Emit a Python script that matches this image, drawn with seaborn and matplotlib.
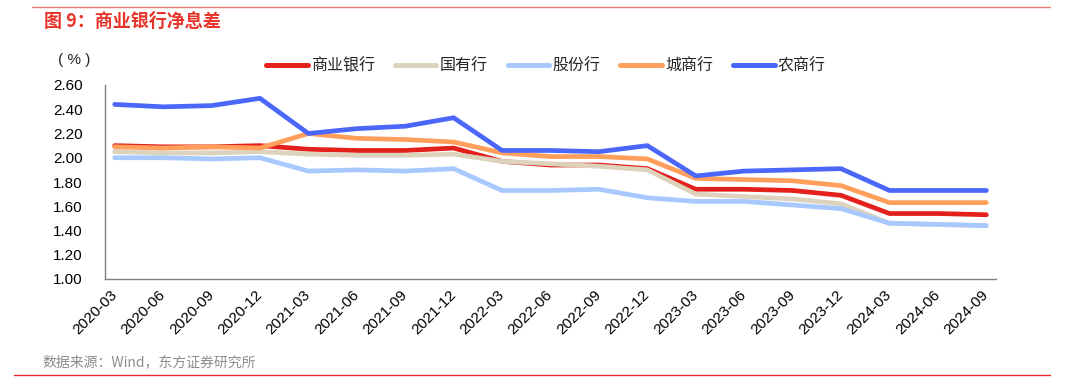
import matplotlib
matplotlib.use("Agg")
import matplotlib.pyplot as plt
import seaborn as sns
import pandas as pd
import numpy as np
from matplotlib.lines import Line2D

quarters = ["2020-03", "2020-06", "2020-09", "2020-12", "2021-03", "2021-06", "2021-09",
            "2021-12", "2022-03", "2022-06", "2022-09", "2022-12", "2023-03", "2023-06",
            "2023-09", "2023-12", "2024-03", "2024-06", "2024-09"]
commercial = [2.10, 2.09, 2.09, 2.10, 2.07, 2.06, 2.06, 2.08, 1.97, 1.94, 1.94, 1.91,
              1.74, 1.74, 1.73, 1.69, 1.54, 1.54, 1.53]
state_owned = [2.05, 2.04, 2.04, 2.05, 2.03, 2.02, 2.02, 2.03, 1.97, 1.95, 1.93, 1.90,
               1.70, 1.68, 1.66, 1.62, 1.46, 1.45, 1.44]
joint_stock = [2.00, 2.00, 1.99, 2.00, 1.89, 1.90, 1.89, 1.91, 1.73, 1.73, 1.74, 1.67,
               1.64, 1.64, 1.61, 1.58, 1.46, 1.45, 1.44]
city = [2.09, 2.08, 2.09, 2.08, 2.20, 2.16, 2.15, 2.13, 2.04, 2.01, 2.01, 1.99,
        1.83, 1.82, 1.81, 1.77, 1.63, 1.63, 1.63]
rural = [2.44, 2.42, 2.43, 2.49, 2.20, 2.24, 2.26, 2.33, 2.06, 2.06, 2.05, 2.10,
         1.85, 1.89, 1.90, 1.91, 1.73, 1.73, 1.73]
series_names = ["商业银行", "国有行", "股份行", "城商行", "农商行"]
colors = ["#E3201B", "#DDD3BD", "#A7C9FF", "#FF9F5B", "#4A67FA"]

sns.set_theme(style="white")
plt.rcParams["font.family"] = ["Liberation Sans", "Noto Sans CJK SC", "DejaVu Sans"]

rows = []
for name, vals in zip(series_names, [commercial, state_owned, joint_stock, city, rural]):
    for i, (q, v) in enumerate(zip(quarters, vals)):
        rows.append({"idx": i, "quarter": q, "series": name, "value": v})
df = pd.DataFrame(rows)

fig = plt.figure(figsize=(10.82, 3.87), dpi=100)
ax = fig.add_axes([105 / 1082, 1 - 279 / 387, (996 - 105) / 1082, (279 - 85) / 387])

sns.lineplot(data=df, x="idx", y="value", hue="series", hue_order=series_names,
             palette=colors, linewidth=3.4, ax=ax, legend=False,
             solid_capstyle="round")

n = len(quarters)
ax.set_xlim(-0.2, n - 1 + 0.2)
ax.set_ylim(1.0, 2.6)
yt = np.arange(1.0, 2.61, 0.2)
ax.set_yticks(yt)
ax.set_yticklabels([f"{v:.2f}" for v in yt], fontsize=11)
ax.set_xticks(range(n))
ax.set_xticklabels(quarters, rotation=45, ha="right", va="center",
                   rotation_mode="anchor", fontsize=11)
ax.set_xticks(np.arange(n) - 0.2, minor=True)
ax.set_xlabel("")
ax.set_ylabel("")
for s in ["top", "right"]:
    ax.spines[s].set_visible(False)
for s in ["left", "bottom"]:
    ax.spines[s].set_color("#808080")
    ax.spines[s].set_linewidth(1.0)
ax.tick_params(axis="x", which="major", length=0, pad=10, labelcolor="black")
ax.tick_params(axis="x", which="minor", direction="in", length=5, width=0.8,
               color="#A0A0A0")
ax.tick_params(axis="y", length=0, pad=16, labelcolor="black")

# legend
handles = [Line2D([0], [0], color=c, lw=3.6, solid_capstyle="round") for c in colors]
fig.legend(handles, series_names, loc="center", bbox_to_anchor=(546 / 1082, 1 - 66 / 387),
           ncol=5, frameon=False, handlelength=2.6, handletextpad=0.2,
           columnspacing=1.25, prop={"family": ["Noto Sans CJK SC"], "size": 11.5})

fig.text(74 / 1082, 1 - 60 / 387, "( % )", ha="center", va="center", fontsize=11)

# title and decorations
fig.text(44 / 1082, 1 - 21 / 387, "图 9：商业银行净息差", ha="left", va="center",
         fontsize=13, fontweight="bold", color="#E8352B", family=["Noto Sans CJK SC"])
fig.add_artist(Line2D([32 / 1082, 1050 / 1082], [1 - 7 / 387, 1 - 7 / 387],
                      color="#EE7B74", lw=1.0, transform=fig.transFigure))
fig.add_artist(Line2D([14 / 1082, 1050 / 1082], [1 - 375 / 387, 1 - 375 / 387],
                      color="#E8262B", lw=1.0, transform=fig.transFigure))
fig.text(42 / 1082, 1 - 362 / 387, "数据来源：Wind，东方证券研究所", ha="left", va="center",
         fontsize=10, color="#8C8C8C", family=["Noto Sans CJK SC"])

fig.savefig("out.png", dpi=100)
